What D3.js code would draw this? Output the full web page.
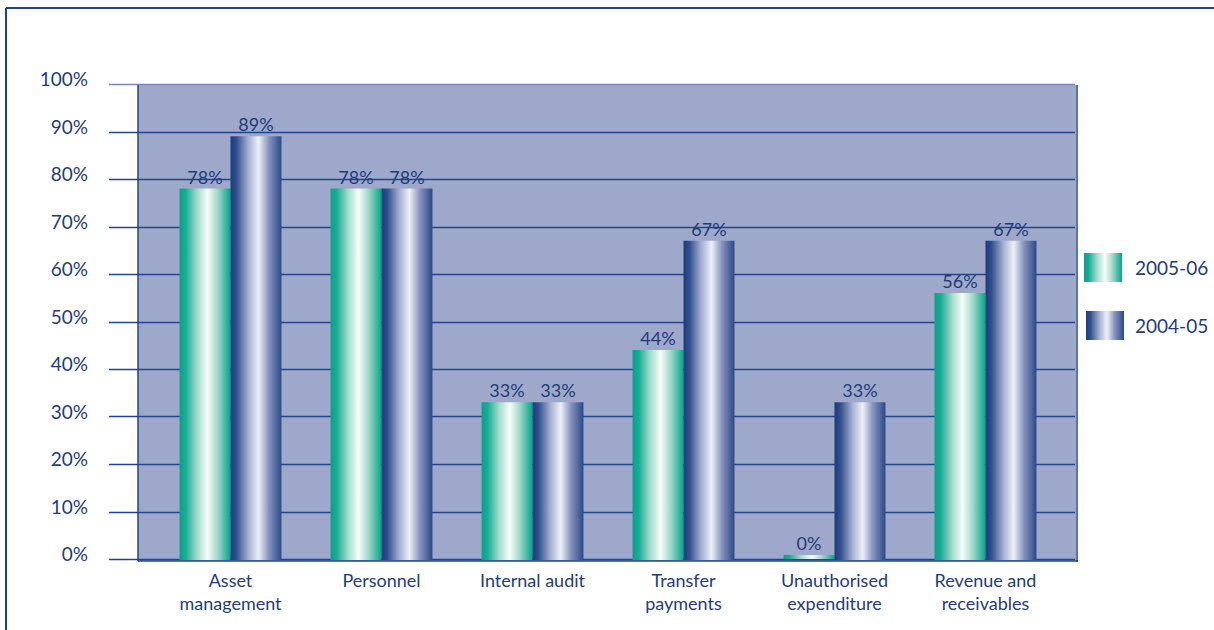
<!DOCTYPE html>
<html>
<head>
<meta charset="utf-8">
<script src="https://cdn.jsdelivr.net/npm/d3@7"></script>
<style>
  html, body { margin: 0; padding: 0; background: #fff; }
  svg { display: block; }
  text { font-family: "Lato", "Noto Sans", sans-serif; fill: #1f3c78; }
</style>
</head>
<body>
<svg id="chart" width="1214" height="630"></svg>
<script>
// Audit findings by area, share of departments (%)
const categories = [
  ["Asset", "management"],
  ["Personnel"],
  ["Internal audit"],
  ["Transfer", "payments"],
  ["Unauthorised", "expenditure"],
  ["Revenue and", "receivables"]
];
const seriesNames = ["2005-06", "2004-05"];
const values2005 = [78, 78, 33, 44, 0, 56];
const values2004 = [89, 78, 33, 67, 33, 67];
const yTicks = [0, 10, 20, 30, 40, 50, 60, 70, 80, 90, 100];

const svg = d3.select("#chart");
const W = 1214, H = 630;

const catKeys = categories.map(c => c.join(" "));
const plot = { left: 138, right: 1077, top: 85, bottom: 560 };

const x = d3.scaleBand().domain(catKeys).range([155, 1061])
  .paddingInner(0.325).paddingOuter(0.1625);
const xs = d3.scaleBand().domain(seriesNames).range([0, x.bandwidth()]);
const y = d3.scaleLinear().domain([0, 100]).range([559, 84]);

// gradients for the cylinder-like bars
const defs = svg.append("defs");
function grad(id, stops) {
  const g = defs.append("linearGradient").attr("id", id)
    .attr("x1", "0%").attr("x2", "100%").attr("y1", "0%").attr("y2", "0%");
  stops.forEach(([o, c]) => g.append("stop").attr("offset", o).attr("stop-color", c));
}
grad("gGreen", [["0%", "#00a68a"], ["12%", "#1aab92"], ["35%", "#a6dccd"], ["55%", "#f7fcfa"], ["75%", "#9fd8c9"], ["100%", "#00a68a"]]);
grad("gBlue", [["0%", "#1c3b7c"], ["12%", "#33508e"], ["35%", "#a4b0d0"], ["55%", "#eef0f8"], ["75%", "#8794c0"], ["100%", "#2a4888"]]);
const fills = { "2005-06": "url(#gGreen)", "2004-05": "url(#gBlue)" };

// outer frame (top and left edges)
svg.append("line").attr("x1", 6).attr("x2", W).attr("y1", 8).attr("y2", 8)
  .attr("stroke", "#1f4384").attr("stroke-width", 2);
svg.append("line").attr("x1", 6).attr("x2", 6).attr("y1", 8).attr("y2", H)
  .attr("stroke", "#1f4384").attr("stroke-width", 2);

// plot background
svg.append("rect").attr("x", plot.left).attr("y", plot.top)
  .attr("width", plot.right - plot.left).attr("height", plot.bottom - plot.top + 1)
  .attr("fill", "#9ea8ca");

// gridlines with tick stubs
svg.append("g").selectAll("line").data(yTicks).join("line")
  .attr("x1", 109).attr("x2", plot.right - 2)
  .attr("y1", d => Math.round(y(d)) + 0.5).attr("y2", d => Math.round(y(d)) + 0.5)
  .attr("stroke", d => d === 100 ? "#7388b8" : "#23468a").attr("stroke-width", 1.6);

// plot borders
svg.append("line").attr("x1", plot.left).attr("x2", plot.left).attr("y1", plot.top).attr("y2", plot.bottom + 1)
  .attr("stroke", "#23468a").attr("stroke-width", 1.5);
svg.append("line").attr("x1", plot.right).attr("x2", plot.right).attr("y1", plot.top).attr("y2", plot.bottom + 2)
  .attr("stroke", "#5a74a8").attr("stroke-width", 2);
svg.append("line").attr("x1", plot.left).attr("x2", plot.right + 1).attr("y1", plot.bottom + 1).attr("y2", plot.bottom + 1)
  .attr("stroke", "#23468a").attr("stroke-width", 1.5);

// y tick labels
svg.append("g").selectAll("text").data(yTicks).join("text")
  .attr("x", 88).attr("y", d => y(d) + 2)
  .attr("text-anchor", "end").attr("font-size", 19)
  .text(d => d + "%");

// bars
const rows = catKeys.map((k, i) => ({ key: k, vals: [
  { s: seriesNames[0], v: values2005[i] },
  { s: seriesNames[1], v: values2004[i] }
]}));
const groups = svg.append("g").selectAll("g").data(rows).join("g")
  .attr("transform", d => `translate(${x(d.key)},0)`);
groups.selectAll("rect").data(d => d.vals).join("rect")
  .attr("x", d => xs(d.s)).attr("width", xs.bandwidth())
  .attr("y", d => d.v === 0 ? y(0) - 4 : y(d.v))
  .attr("height", d => d.v === 0 ? 4 : y(0) - y(d.v) + 1)
  .attr("fill", d => fills[d.s]);
groups.selectAll("text").data(d => d.vals).join("text")
  .attr("x", d => xs(d.s) + xs.bandwidth() / 2)
  .attr("y", d => (d.v === 0 ? y(0) - 4 : y(d.v)) - 5)
  .attr("text-anchor", "middle").attr("font-size", 18)
  .text(d => d.v + "%");

// category labels
svg.append("g").selectAll("text").data(categories).join("text")
  .attr("x", (d, i) => x(catKeys[i]) + x.bandwidth() / 2)
  .attr("y", 587).attr("text-anchor", "middle").attr("font-size", 18)
  .each(function(d) {
    const t = d3.select(this);
    d.forEach((line, j) => t.append("tspan")
      .attr("x", t.attr("x")).attr("dy", j === 0 ? 0 : 23).text(line));
  });

// legend
const legend = svg.append("g");
seriesNames.forEach((s, i) => {
  legend.append("rect").attr("x", 1084 + i * 2).attr("y", 253 + i * 58)
    .attr("width", 38).attr("height", 29).attr("fill", fills[s]);
  legend.append("text").attr("x", 1135).attr("y", 275 + i * 58)
    .attr("font-size", 19).text(s);
});
</script>
</body>
</html>
